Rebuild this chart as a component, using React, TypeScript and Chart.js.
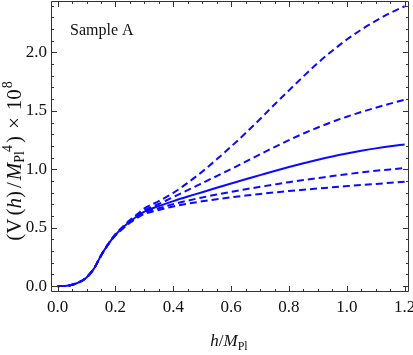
import React, { useEffect, useRef } from "react";
import { Chart, registerables } from "chart.js";

Chart.register(...registerables);

// h / M_Pl sample points
const hValues = [
  0, 0.025, 0.05, 0.075, 0.1, 0.125, 0.15, 0.175, 0.2, 0.225, 0.25, 0.275,
  0.3, 0.35, 0.4, 0.45, 0.5, 0.55, 0.6, 0.65, 0.7, 0.75, 0.8, 0.85, 0.9, 0.95,
  1.0, 1.05, 1.1, 1.15, 1.2,
];

// common rising part (h = 0 ... 0.175)
const risePart = [0, 0.002, 0.012, 0.034, 0.075, 0.148, 0.262, 0.36];

// branches from h = 0.2 to 1.2
const dashedTop = [0.445, 0.508, 0.566, 0.615, 0.665, 0.728, 0.798, 0.885, 0.98, 1.085, 1.195, 1.31, 1.43, 1.555, 1.675, 1.795, 1.91, 2.015, 2.11, 2.195, 2.27, 2.337, 2.395];
const dashedSecond = [0.442, 0.504, 0.559, 0.606, 0.65, 0.703, 0.762, 0.822, 0.882, 0.942, 1.002, 1.065, 1.128, 1.19, 1.25, 1.306, 1.358, 1.406, 1.45, 1.49, 1.527, 1.562, 1.595];
const solidCentral = [0.44, 0.5, 0.553, 0.598, 0.638, 0.685, 0.728, 0.767, 0.804, 0.842, 0.879, 0.915, 0.95, 0.985, 1.019, 1.051, 1.082, 1.11, 1.135, 1.158, 1.179, 1.197, 1.212];
const dashedFourth = [0.437, 0.496, 0.547, 0.59, 0.628, 0.667, 0.702, 0.732, 0.759, 0.784, 0.807, 0.829, 0.85, 0.87, 0.89, 0.908, 0.925, 0.942, 0.958, 0.973, 0.987, 0.999, 1.01];
const dashedBottom = [0.434, 0.492, 0.542, 0.584, 0.618, 0.652, 0.682, 0.706, 0.726, 0.744, 0.76, 0.775, 0.789, 0.802, 0.814, 0.825, 0.836, 0.846, 0.856, 0.866, 0.875, 0.884, 0.893];

const xTickValues = [0, 0.2, 0.4, 0.6, 0.8, 1.0, 1.2];
const yTickValues = [0, 0.5, 1.0, 1.5, 2.0];
const xMinorStep = 0.05;
const yMinorStep = 0.1;

const sampleLabel = "Sample A";

const BLUE = "rgb(10,10,255)";
const SERIF = '"Liberation Serif", "DejaVu Serif", serif';

function toPoints(branch: number[]) {
  const ys = [...risePart, ...branch];
  return hValues.map((h, i) => ({ x: h, y: ys[i] }));
}

type Seg = { t: string; italic?: boolean; size: number; shift: number; gap?: number };

function drawRich(ctx: CanvasRenderingContext2D, segs: Seg[], cx: number, baseY: number) {
  let total = 0;
  for (const s of segs) {
    ctx.font = `${s.italic ? "italic " : ""}${s.size}px ${SERIF}`;
    total += ctx.measureText(s.t).width + (s.gap || 0);
  }
  let x = cx - total / 2;
  ctx.textAlign = "left";
  ctx.textBaseline = "alphabetic";
  for (const s of segs) {
    ctx.font = `${s.italic ? "italic " : ""}${s.size}px ${SERIF}`;
    x += s.gap || 0;
    ctx.fillText(s.t, x, baseY + s.shift);
    x += ctx.measureText(s.t).width;
  }
}

const framePlugin = {
  id: "mmaFrame",
  afterDraw(chart: any) {
    const { ctx, chartArea, scales } = chart;
    const { left, right, top, bottom } = chartArea;
    const xs = scales.x;
    const ys = scales.y;
    ctx.save();
    ctx.strokeStyle = "#333";
    ctx.lineWidth = 1;
    ctx.beginPath();
    ctx.rect(left + 0.5, top + 0.5, right - left - 1, bottom - top - 1);
    ctx.stroke();

    const isMajor = (v: number, majors: number[]) => majors.some((m) => Math.abs(m - v) < 1e-6);
    ctx.beginPath();
    for (let v = 0; v <= xs.max + 1e-9; v += xMinorStep) {
      const vv = Math.round(v * 1000) / 1000;
      const len = isMajor(vv, xTickValues) ? 6 : 3;
      const px = Math.round(xs.getPixelForValue(vv)) + 0.5;
      ctx.moveTo(px, bottom);
      ctx.lineTo(px, bottom - len);
      ctx.moveTo(px, top);
      ctx.lineTo(px, top + len);
    }
    for (let v = 0; v <= ys.max + 1e-9; v += yMinorStep) {
      const vv = Math.round(v * 1000) / 1000;
      const len = isMajor(vv, yTickValues) ? 6 : 3;
      const py = Math.round(ys.getPixelForValue(vv)) + 0.5;
      ctx.moveTo(left, py);
      ctx.lineTo(left + len, py);
      ctx.moveTo(right, py);
      ctx.lineTo(right - len, py);
    }
    ctx.stroke();

    ctx.fillStyle = "#111";
    ctx.font = `16px ${SERIF}`;
    ctx.textAlign = "left";
    ctx.textBaseline = "alphabetic";
    ctx.fillText(sampleLabel, 70, 35);

    drawRich(
      ctx,
      [
        { t: "h", italic: true, size: 17, shift: 0 },
        { t: "/", size: 17, shift: 0 },
        { t: "M", italic: true, size: 17, shift: 0 },
        { t: "Pl", size: 12, shift: 4 },
      ],
      229,
      346
    );

    ctx.save();
    ctx.translate(20.5, 161);
    ctx.rotate(-Math.PI / 2);
    drawRich(
      ctx,
      [
        { t: "(V", size: 21, shift: 0 },
        { t: "(", size: 21, shift: 0, gap: 3 },
        { t: "h", italic: true, size: 21, shift: 0 },
        { t: ")", size: 21, shift: 0 },
        { t: "/", size: 21, shift: 0, gap: 3 },
        { t: "M", italic: true, size: 21, shift: 0, gap: 2 },
        { t: "Pl", size: 14, shift: 3 },
        { t: "4", size: 14, shift: -9, gap: -1 },
        { t: ")", size: 21, shift: 0, gap: 2 },
        { t: "\u00d7", size: 21, shift: 0, gap: 7 },
        { t: "10", size: 21, shift: 0, gap: 7 },
        { t: "8", size: 14, shift: -9, gap: 1 },
      ],
      0,
      0
    );
    ctx.restore();
    ctx.restore();
  },
};

export default function App() {
  const canvasRef = useRef<HTMLCanvasElement | null>(null);

  useEffect(() => {
    document.body.style.margin = "0";
    const canvas = canvasRef.current;
    if (!canvas) return;
    const dashed = (data: number[]) => ({
      data: toPoints(data),
      borderColor: BLUE,
      borderWidth: 2,
      borderDash: [7, 4],
      pointRadius: 0,
      fill: false,
      cubicInterpolationMode: "monotone" as const,
    });
    const chart = new Chart(canvas, {
      type: "line",
      data: {
        datasets: [
          dashed(dashedTop),
          dashed(dashedSecond),
          dashed(dashedFourth),
          dashed(dashedBottom),
          {
            data: toPoints(solidCentral),
            borderColor: BLUE,
            borderWidth: 2,
            pointRadius: 0,
            fill: false,
            cubicInterpolationMode: "monotone" as const,
          },
        ],
      },
      options: {
        animation: false,
        responsive: false,
        maintainAspectRatio: false,
        layout: { padding: { left: 0, right: 4, top: 1, bottom: 0 } },
        plugins: { legend: { display: false }, tooltip: { enabled: false } },
        scales: {
          x: {
            type: "linear",
            min: -0.023,
            max: 1.215,
            grid: { display: false, drawTicks: false },
            border: { display: false },
            afterBuildTicks: (scale: any) => {
              scale.ticks = xTickValues.map((v) => ({ value: v }));
            },
            afterFit: (scale: any) => {
              scale.height = 63;
              scale.paddingLeft = 0;
              scale.paddingRight = 0;
            },
            ticks: {
              padding: 5,
              maxRotation: 0,
              autoSkip: false,
              color: "#111",
              font: { family: SERIF, size: 17 },
              callback: (v: any) => Number(v).toFixed(1),
            },
          },
          y: {
            type: "linear",
            min: -0.05,
            max: 2.44,
            grid: { display: false, drawTicks: false },
            border: { display: false },
            afterBuildTicks: (scale: any) => {
              scale.ticks = yTickValues.map((v) => ({ value: v }));
            },
            afterFit: (scale: any) => {
              scale.width = 51;
              scale.paddingTop = 0;
              scale.paddingBottom = 0;
            },
            ticks: {
              padding: 4,
              autoSkip: false,
              color: "#111",
              font: { family: SERIF, size: 17 },
              callback: (v: any) => Number(v).toFixed(1),
            },
          },
        },
      },
      plugins: [framePlugin],
    });
    return () => chart.destroy();
  }, []);

  return (
    <div style={{ width: 413, height: 355 }}>
      <canvas ref={canvasRef} width={413} height={355} style={{ display: "block" }} />
    </div>
  );
}
